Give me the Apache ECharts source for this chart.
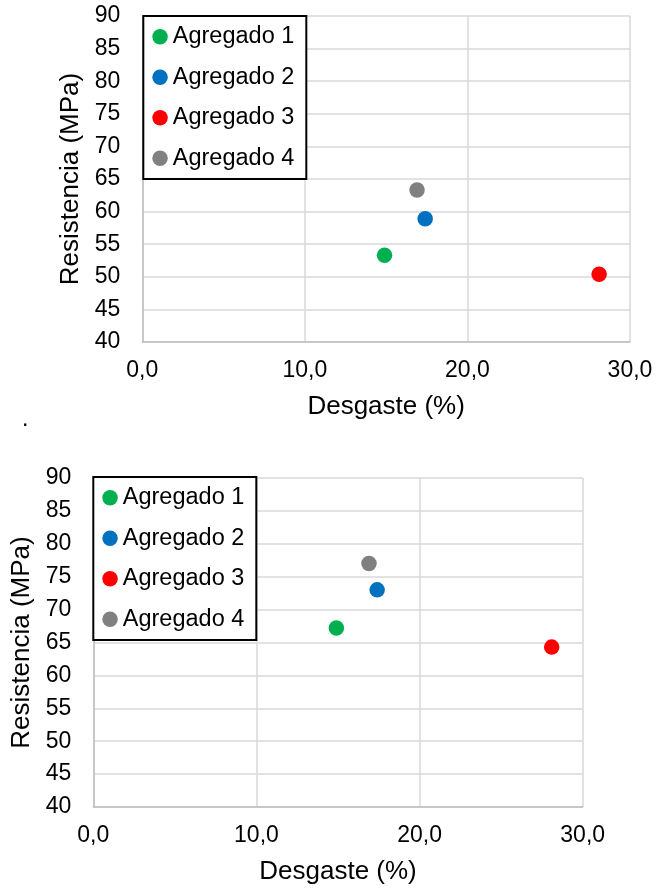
<!DOCTYPE html>
<html>
<head>
<meta charset="utf-8">
<script src="https://cdn.jsdelivr.net/npm/echarts@6/dist/echarts.min.js"></script>
<style>
  html, body { margin: 0; padding: 0; background: #fff; }
  #chart { width: 656px; height: 890px; }
</style>
</head>
<body>
<div id="chart"></div>
<script>
// Aggregate names and colours
const agregados = ['Agregado 1', 'Agregado 2', 'Agregado 3', 'Agregado 4'];
const colores = ['#00b050', '#0070c0', '#ff0000', '#808080'];

// Wear (%) of each aggregate
const desgaste = [14.9, 17.4, 28.1, 16.9];

// Strength (MPa), upper panel
const resistenciaSup = [53.3, 58.9, 50.4, 63.3];
// Strength (MPa), lower panel
const resistenciaInf = [67.2, 73.0, 64.3, 77.0];

// Axis ranges
const xRange = { min: 0, max: 30, interval: 10 };
const yRange = { min: 40, max: 90, interval: 5 };

const FONT = 'Liberation Sans, Arial, sans-serif';

function xAxis(gridIndex) {
  return {
    type: 'value', gridIndex,
    min: xRange.min, max: xRange.max, interval: xRange.interval,
    name: 'Desgaste (%)', nameLocation: 'middle', nameGap: 52,
    nameTextStyle: { color: '#000', fontSize: 26, fontFamily: FONT },
    axisLine: { show: true, lineStyle: { color: '#bfbfbf', width: 1.5 } },
    axisTick: { show: false },
    axisLabel: {
      color: '#000', fontSize: 23, fontFamily: FONT, margin: 17,
      formatter: v => v.toFixed(1).replace('.', ',')
    },
    splitLine: { show: true, lineStyle: { color: '#d9d9d9', width: 1.5 } }
  };
}

function yAxis(gridIndex) {
  return {
    type: 'value', gridIndex,
    min: yRange.min, max: yRange.max, interval: yRange.interval,
    name: 'Resistencia (MPa)', nameLocation: 'middle', nameGap: 55,
    nameTextStyle: { color: '#000', fontSize: 26, fontFamily: FONT },
    axisLine: { show: true, lineStyle: { color: '#bfbfbf', width: 1.5 } },
    axisTick: { show: false },
    axisLabel: { color: '#000', fontSize: 23, fontFamily: FONT, margin: 22 },
    splitLine: { show: true, lineStyle: { color: '#d9d9d9', width: 1.5 } }
  };
}

function legend(left, top) {
  return {
    data: agregados,
    orient: 'vertical',
    left, top,
    icon: 'circle',
    itemWidth: 15.5, itemHeight: 15.5,
    itemGap: 16.5,
    padding: [8.7, 12, 8.8, 9],
    backgroundColor: '#fff',
    borderColor: '#000',
    borderWidth: 2,
    borderRadius: 0,
    selectedMode: false,
    textStyle: { color: '#000', fontSize: 23.5, fontFamily: FONT, lineHeight: 24, padding: [0, 0, 0, 0] }
  };
}

function scatterSeries(values, gridIndex) {
  return agregados.map((name, i) => ({
    name,
    type: 'scatter',
    xAxisIndex: gridIndex,
    yAxisIndex: gridIndex,
    symbol: 'circle',
    symbolSize: 15.5,
    itemStyle: { color: colores[i], opacity: 1 },
    data: [[desgaste[i], values[i]]]
  }));
}

const chart = echarts.init(document.getElementById('chart'), null, { renderer: 'canvas' });
chart.setOption({
  animation: false,
  backgroundColor: '#fff',
  grid: [
    { left: 142.3, top: 16, width: 487.7, height: 326 },
    { left: 93.3, top: 478, width: 489.4, height: 329 }
  ],
  xAxis: [xAxis(0), xAxis(1)],
  yAxis: [yAxis(0), yAxis(1)],
  legend: [legend(143.3, 16), legend(93.3, 477)],
  graphic: [
    { type: 'text', left: 22, top: 408, style: { text: '.', fontSize: 23, fontFamily: FONT, fill: '#000' } }
  ],
  series: [...scatterSeries(resistenciaSup, 0), ...scatterSeries(resistenciaInf, 1)]
});
</script>
</body>
</html>
